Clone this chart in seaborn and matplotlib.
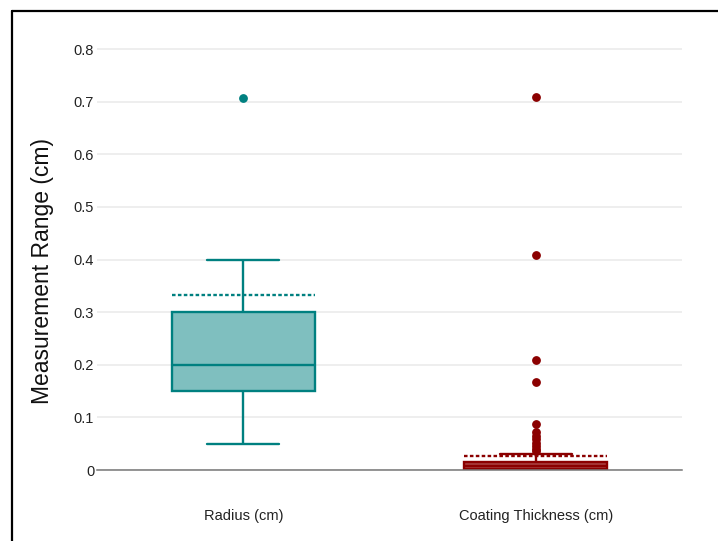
import matplotlib
matplotlib.use("Agg")
import matplotlib.pyplot as plt
from matplotlib.lines import Line2D
import seaborn as sns
import pandas as pd
import numpy as np

categories = ["Radius (cm)", "Coating Thickness (cm)"]
line_colors = ["#008080", "#8B0000"]
fill_colors = [(0.0, 0.502, 0.502, 0.5), (0.545, 0.0, 0.0, 0.75)]

radius_values = [0.05, 0.15, 0.15, 0.2, 0.2, 0.3, 0.3, 0.4, 0.707]
coating_values = [
    0.0, 0.0, 0.0005, 0.0005, 0.001, 0.001, 0.001, 0.0012, 0.0015, 0.0015,
    0.0018, 0.002, 0.002, 0.002,
    0.003, 0.003, 0.004, 0.004, 0.005, 0.005, 0.006, 0.006, 0.006, 0.007,
    0.007, 0.008, 0.008,
    0.009, 0.009, 0.01, 0.01, 0.01, 0.011, 0.011, 0.012, 0.012, 0.013,
    0.013, 0.015, 0.015, 0.03,
    0.036, 0.04, 0.046, 0.052, 0.058, 0.065, 0.072, 0.088, 0.167, 0.209,
    0.409, 0.709,
]
mean_values = [0.333, 0.027]
y_ticks = [0, 0.1, 0.2, 0.3, 0.4, 0.5, 0.6, 0.7, 0.8]
y_tick_labels = ["0", "0.1", "0.2", "0.3", "0.4", "0.5", "0.6", "0.7", "0.8"]

df = pd.DataFrame({
    "category": [categories[0]] * len(radius_values) + [categories[1]] * len(coating_values),
    "value": radius_values + coating_values,
})

sns.set_style("white")
plt.rcParams["font.family"] = ["Liberation Sans", "DejaVu Sans"]

fig = plt.figure(figsize=(7.18, 5.41), dpi=100)
ax = fig.add_axes([97 / 718, 1 - 470 / 541, (682 - 97) / 718, (470 - 43) / 541])

box_w = 0.49
for i, cat in enumerate(categories):
    sub = df[df["category"] == cat]
    lc = line_colors[i]
    sns.boxplot(
        data=sub, x="category", y="value", order=categories, ax=ax,
        width=box_w, linewidth=1.7, linecolor=lc, saturation=1,
        boxprops=dict(facecolor=fill_colors[i], edgecolor=lc),
        medianprops=dict(color=lc),
        whiskerprops=dict(color=lc),
        capprops=dict(color=lc),
        flierprops=dict(marker="o", markerfacecolor=lc, markeredgecolor=lc,
                        markersize=5.3),
    )

positions = np.arange(len(categories))
for i, m in enumerate(mean_values):
    ax.hlines(m, positions[i] - box_w / 2, positions[i] + box_w / 2,
              colors=line_colors[i], linewidth=1.7, linestyles=(0, (1.5, 1.0)),
              zorder=5)

ax.set_xlim(-0.5, 1.5)
ax.set_ylim(0, 0.8115)
ax.set_yticks(y_ticks)
ax.set_yticklabels(y_tick_labels)
ax.yaxis.grid(True, color="#ebebeb", linewidth=1.2)
ax.set_axisbelow(True)
for s in ["top", "right", "left"]:
    ax.spines[s].set_visible(False)
ax.spines["bottom"].set_color("#777777")
ax.spines["bottom"].set_linewidth(1.1)
ax.tick_params(axis="y", length=0, pad=2, labelsize=10.5, labelcolor="#222222")
ax.tick_params(axis="x", length=0, pad=28, labelsize=10.5, labelcolor="#222222")
ax.set_xlabel("")
ax.set_ylabel("")
fig.text(43 / 718, 1 - 271 / 541, "Measurement Range (cm)", rotation=90,
         ha="center", va="center", fontsize=16.5, color="#111111")

# figure frame lines (left and top)
fig.add_artist(Line2D([12 / 718, 12 / 718], [0, 1 - 11 / 541], color="black",
                      linewidth=1.6, transform=fig.transFigure))
fig.add_artist(Line2D([12 / 718, 1], [1 - 11 / 541, 1 - 11 / 541], color="black",
                      linewidth=1.6, transform=fig.transFigure))

fig.savefig("out.png", dpi=100)
